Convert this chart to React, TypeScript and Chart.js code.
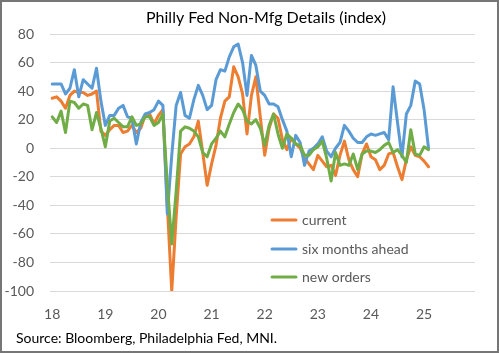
import React, { useEffect, useRef } from "react";
import { Chart, registerables } from "chart.js";

Chart.register(...registerables);

const titleText = "Philly Fed Non-Mfg Details (index)";
const sourceText = "Source: Bloomberg, Philadelphia Fed, MNI.";

const years = ["18", "19", "20", "21", "22", "23", "24", "25"];
const monthNames = ["Jan", "Feb", "Mar", "Apr", "May", "Jun", "Jul", "Aug", "Sep", "Oct", "Nov", "Dec"];
const categories = years.flatMap((y) => monthNames.map((m) => `${m} ${y}`));

const yTicks = [-100, -80, -60, -40, -20, 0, 20, 40, 60, 80];

const seriesNames = ["current", "six months ahead", "new orders"];
const seriesColors = ["#ED7D31", "#5B9BD5", "#70AD47"];

const current = [
  35, 36, 33, 28, 37, 40, 39, 39, 37, 38, 40, 12,
  9, 13, 16, 16, 11, 12, 16, 11, 14, 23, 24, 17,
  23, 27, -40, -100, -48, -4, 1, 3, 8, 19, -3, -26,
  -11, 2, 21, 33, 36, 57, 50, 38, 10, 37, 50, 22,
  -5, 14, 24, 21, 6, -1, 7, 3, 0, -7, -11, -15,
  -5, -9, -13, -12, -19, -5, 5, -8, -15, -20, -4, 3,
  -6, -8, -15, -12, -4, -3, -13, -22, -8, 1, -5, -6,
  -9, -13,
];

const sixMonthsAhead = [
  45, 45, 45, 38, 42, 55, 36, 48, 45, 42, 56, 33,
  16, 23, 23, 28, 30, 22, 21, 3, 18, 24, 25, 27,
  33, 30, -46, -5, 30, 39, 23, 21, 34, 44, 37, 27,
  30, 48, 55, 54, 64, 71, 73, 60, 37, 65, 58, 40,
  37, 31, 31, 29, 20, 12, -6, 9, 4, -12, -2, 0,
  3, 8, -2, -6, 0, 4, 16, 12, 7, 4, 4, 8,
  10, 9, 10, 11, 6, 43, 18, -6, 24, 30, 47, 45,
  27, 0,
];

const newOrders = [
  22, 18, 26, 11, 33, 32, 28, 31, 30, 13, 25, 14,
  1, 19, 21, 18, 15, 15, 22, 16, 17, 22, 22, 16,
  18, 24, -25, -67, -30, 12, 15, 14, 12, 8, -3, -6,
  3, 7, 12, 8, 17, 25, 31, 27, 19, 17, 20, 14,
  2, 16, 24, 10, 0, 10, 7, 3, 2, -5, -5, -1,
  1, 5, -7, -23, -3, -12, -11, -12, -4, -15, -4, -2,
  -2, -3, -1, 2, 4, -3, -1, -5, -10, 13, -4, -5,
  1, -1,
];

const FONT = "Lato, 'Open Sans', sans-serif";

const decorPlugin = {
  id: "decor",
  beforeDraw(chart: any) {
    const { ctx, width, height } = chart;
    ctx.save();
    ctx.fillStyle = "#ffffff";
    ctx.fillRect(0, 0, width, height);
    ctx.restore();
  },
  afterDraw(chart: any) {
    const { ctx, width, height } = chart;
    ctx.save();
    ctx.strokeStyle = "#767676";
    ctx.lineWidth = 2;
    ctx.strokeRect(1, 1, width - 2, height - 2);

    ctx.fillStyle = "#000000";
    ctx.font = `16px ${FONT}`;
    ctx.textAlign = "center";
    ctx.textBaseline = "middle";
    ctx.fillText(titleText, 266, 18);

    ctx.font = `14px ${FONT}`;
    ctx.textAlign = "left";
    ctx.fillText(sourceText, 16, 338);

    const legendYs = [220, 249, 277];
    ctx.font = `14px ${FONT}`;
    seriesNames.forEach((name, i) => {
      const y = legendYs[i];
      ctx.strokeStyle = seriesColors[i];
      ctx.lineWidth = 3;
      ctx.lineCap = "round";
      ctx.beginPath();
      ctx.moveTo(272, y);
      ctx.lineTo(296, y);
      ctx.stroke();
      ctx.fillStyle = "#595959";
      ctx.fillText(name, 302, y);
    });
    ctx.restore();
  },
};

export default function App() {
  const canvasRef = useRef<HTMLCanvasElement | null>(null);

  useEffect(() => {
    document.body.style.margin = "0";
    const canvas = canvasRef.current;
    if (!canvas) return;
    const seriesData = [current, sixMonthsAhead, newOrders];
    const chart = new Chart(canvas, {
      type: "line",
      data: {
        labels: categories,
        datasets: seriesData.map((d, i) => ({
          label: seriesNames[i],
          data: d,
          borderColor: seriesColors[i],
          backgroundColor: seriesColors[i],
          borderWidth: 3,
          pointRadius: 0,
          tension: 0,
          fill: false,
          borderJoinStyle: "round" as const,
          borderCapStyle: "round" as const,
          order: 2 - i,
        })),
      },
      options: {
        animation: false,
        responsive: false,
        devicePixelRatio: 1,
        layout: { padding: { left: 0, right: 24, top: 34, bottom: 0 } },
        plugins: {
          legend: { display: false },
          title: { display: false },
          tooltip: { enabled: false },
        },
        scales: {
          x: {
            type: "category",
            offset: true,
            grid: { display: false, drawTicks: false },
            border: { display: false },
            ticks: {
              autoSkip: false,
              maxRotation: 0,
              minRotation: 0,
              padding: 15,
              color: "#595959",
              font: { family: FONT, size: 14 },
              callback: (_v: any, idx: number) =>
                categories[idx].startsWith("Jan") ? categories[idx].slice(4) : "",
            },
            afterFit: (scale: any) => {
              scale.height = 62;
            },
          },
          y: {
            min: -100,
            max: 80,
            grid: { color: "#d9d9d9", lineWidth: 1, drawTicks: false },
            border: { display: false },
            afterBuildTicks: (scale: any) => {
              scale.ticks = yTicks.map((v) => ({ value: v }));
            },
            ticks: {
              padding: 16,
              color: "#595959",
              font: { family: FONT, size: 14 },
            },
            afterFit: (scale: any) => {
              scale.width = 50;
            },
          },
        },
      },
      plugins: [decorPlugin],
    });
    return () => chart.destroy();
  }, []);

  return (
    <div style={{ position: "absolute", left: 0, top: 0, width: 499, height: 353 }}>
      <canvas ref={canvasRef} width={499} height={353} style={{ width: 499, height: 353 }} />
    </div>
  );
}
